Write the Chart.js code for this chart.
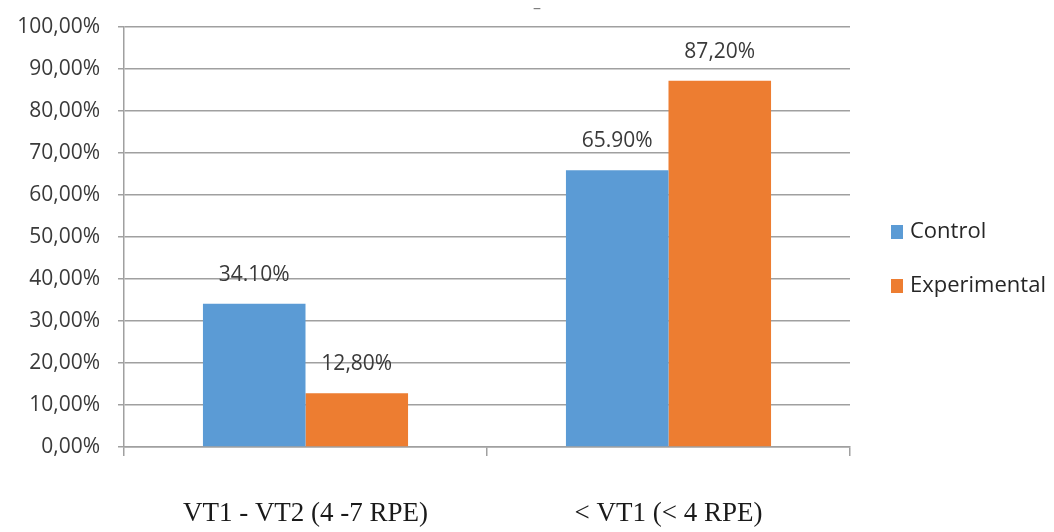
<!DOCTYPE html>
<html>
<head>
<meta charset="utf-8">
<script src="https://cdn.jsdelivr.net/npm/chart.js@4.4.1/dist/chart.umd.min.js"></script>
<style>
  html, body { margin: 0; padding: 0; background: #ffffff; }
  #wrap { width: 1054px; height: 532px; position: relative; }
</style>
</head>
<body>
<div id="wrap"><canvas id="chart" width="1054" height="532"></canvas></div>
<script>
// Intensity zones and share of time spent in each, per group
const categories = ['VT1 - VT2 (4 -7 RPE)', '< VT1 (< 4 RPE)'];
const seriesNames = ['Control', 'Experimental'];
const controlValues = [34.1, 65.9];
const experimentalValues = [12.8, 87.2];
const controlLabels = ['34.10%', '65.90%'];
const experimentalLabels = ['12,80%', '87,20%'];
const yTicks = { min: 0, max: 100, step: 10 };
const chartTitle = '\u2013';

const colors = ['#5B9BD5', '#ED7D31'];
const sansFont = '"Open Sans", "Noto Sans", sans-serif';

const valueLabels = {
  id: 'valueLabels',
  afterDatasetsDraw(chart) {
    const ctx = chart.ctx;
    const texts = [controlLabels, experimentalLabels];
    ctx.save();
    ctx.font = '21px ' + sansFont;
    ctx.fillStyle = '#3a3a3a';
    ctx.textAlign = 'center';
    ctx.textBaseline = 'middle';
    chart.data.datasets.forEach((ds, i) => {
      chart.getDatasetMeta(i).data.forEach((bar, j) => {
        ctx.fillText(texts[i][j], bar.x, bar.y - 29);
      });
    });
    ctx.restore();
  }
};

const sideLegend = {
  id: 'sideLegend',
  afterDraw(chart) {
    const ctx = chart.ctx;
    ctx.save();
    ctx.font = '22px ' + sansFont;
    ctx.textBaseline = 'middle';
    ctx.textAlign = 'left';
    chart.data.datasets.forEach((ds, i) => {
      const y = 232 + i * 54;
      ctx.fillStyle = ds.backgroundColor;
      ctx.fillRect(891, y - 7, 12, 14);
      ctx.fillStyle = '#262626';
      ctx.fillText(ds.label, 910, y);
    });
    // small heading mark above the plot
    ctx.fillStyle = '#7f7f7f';
    ctx.font = '16px ' + sansFont;
    ctx.textAlign = 'center';
    ctx.fillText(chartTitle, 537, 8);
    ctx.restore();
  }
};

new Chart(document.getElementById('chart'), {
  type: 'bar',
  data: {
    labels: categories,
    datasets: [
      { label: seriesNames[0], data: controlValues, backgroundColor: colors[0] },
      { label: seriesNames[1], data: experimentalValues, backgroundColor: colors[1] }
    ]
  },
  options: {
    responsive: false,
    animation: false,
    devicePixelRatio: 1,
    layout: { padding: { top: 27, right: 204, bottom: 0, left: 0 } },
    plugins: {
      legend: { display: false },
      title: { display: false },
      tooltip: { enabled: false }
    },
    datasets: { bar: { barPercentage: 1.0, categoryPercentage: 0.565 } },
    scales: {
      x: {
        grid: {
          display: true,
          drawOnChartArea: false,
          drawTicks: true,
          tickLength: 9,
          color: '#a0a0a0',
          lineWidth: 1.5
        },
        border: { display: true, color: '#a0a0a0', width: 1.5 },
        ticks: {
          color: '#1a1a1a',
          font: { family: '"Liberation Serif", "Times New Roman", serif', size: 27 },
          padding: 42
        },
        afterFit(scale) { scale.height = 85; }
      },
      y: {
        min: yTicks.min,
        max: yTicks.max,
        ticks: {
          stepSize: yTicks.step,
          color: '#3a3a3a',
          font: { family: sansFont, size: 21 },
          padding: 18,
          callback: v => v.toFixed(2).replace('.', ',') + '%'
        },
        grid: {
          color: '#a0a0a0',
          lineWidth: 1.5,
          tickLength: 6
        },
        border: { display: true, color: '#a0a0a0', width: 1.5 },
        afterFit(scale) {
          scale.width = 124;
          scale.paddingTop = 0;
        }
      }
    }
  },
  plugins: [valueLabels, sideLegend]
});
</script>
</body>
</html>
